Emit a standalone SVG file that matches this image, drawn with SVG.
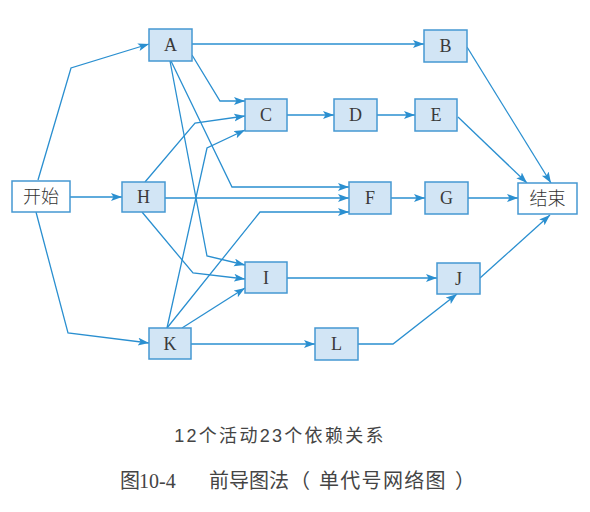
<svg xmlns="http://www.w3.org/2000/svg" width="590" height="512" viewBox="0 0 590 512">
<defs>
<marker id="ar" markerUnits="userSpaceOnUse" markerWidth="12" markerHeight="9" refX="11" refY="4" orient="auto">
<path d="M0,0 L11,4 L0,8 L2.5,4 z" fill="#2a8fd0"/>
</marker>
<style>
.n{fill:#d2e5f5;stroke:#4598d2;stroke-width:1.5}
.w{fill:#ffffff;stroke:#4598d2;stroke-width:1.5}
.t{font-family:"Liberation Serif","Noto Sans CJK SC",serif;font-size:18px;fill:#3a3a3a;text-anchor:middle}
.c{font-family:"Noto Sans CJK SC",sans-serif;font-size:18px;fill:#333;text-anchor:middle;font-weight:300}
.e path{fill:none;stroke:#2a8fd0;stroke-width:1.3;marker-end:url(#ar)}
.cap{font-family:"Liberation Sans","Noto Sans CJK SC",sans-serif;font-size:18px;fill:#444}
.cap2{font-family:"Liberation Sans","Noto Sans CJK SC",sans-serif;font-size:20px;fill:#444}
</style>
</defs>
<rect width="590" height="512" fill="#ffffff"/>
<g id="connectors" class="e">
<path d="M38,180 L71,68 L149,44"/>
<path d="M70,197 L122,197"/>
<path d="M36,212 L68,333 L149,343"/>
<path d="M192,44 L424,44"/>
<path d="M192,55 L220,101 L245,101"/>
<path d="M171,61 L232,187 L349,187"/>
<path d="M170,61 L207,256 L245,265"/>
<path d="M145,182 L195,123 L245,116"/>
<path d="M165,198 L349,198"/>
<path d="M142,212 L193,273 L245,279"/>
<path d="M167,328 L207,148 L245,130"/>
<path d="M167,328 L260,212 L349,212"/>
<path d="M182,328 L245,288"/>
<path d="M191,344 L315,344"/>
<path d="M287,115 L334,115"/>
<path d="M377,115 L415,115"/>
<path d="M458,117 L527,183"/>
<path d="M467,47 L551,183"/>
<path d="M391,198 L425,198"/>
<path d="M468,198 L518,198"/>
<path d="M287,278 L437,278"/>
<path d="M358,344 L393,344 L457,294"/>
<path d="M480,278 L550,215"/>
</g>
<g id="start"><rect class="w" x="12" y="181" width="58" height="31"/><text class="c" x="41" y="203">开始</text></g>
<g id="end"><rect class="w" x="518" y="183" width="59" height="31"/><text class="c" x="547.5" y="205">结束</text></g>
<g id="A"><rect class="n" x="149" y="29" width="43" height="32"/><text class="t" x="170.5" y="51">A</text></g>
<g id="B"><rect class="n" x="424" y="30" width="43" height="32"/><text class="t" x="445.5" y="52">B</text></g>
<g id="C"><rect class="n" x="245" y="99" width="42" height="32"/><text class="t" x="266" y="121">C</text></g>
<g id="D"><rect class="n" x="334" y="99" width="43" height="32"/><text class="t" x="355.5" y="121">D</text></g>
<g id="E"><rect class="n" x="415" y="99" width="42" height="32"/><text class="t" x="436" y="121">E</text></g>
<g id="F"><rect class="n" x="349" y="182" width="42" height="32"/><text class="t" x="370" y="204">F</text></g>
<g id="G"><rect class="n" x="425" y="182" width="43" height="32"/><text class="t" x="446.5" y="204">G</text></g>
<g id="H"><rect class="n" x="122" y="182" width="43" height="30"/><text class="t" x="143.5" y="203">H</text></g>
<g id="I"><rect class="n" x="245" y="262" width="42" height="31"/><text class="t" x="266" y="284">I</text></g>
<g id="J"><rect class="n" x="437" y="263" width="43" height="31"/><text class="t" x="458.5" y="285">J</text></g>
<g id="K"><rect class="n" x="149" y="328" width="42" height="31"/><text class="t" x="170" y="350">K</text></g>
<g id="L"><rect class="n" x="315" y="328" width="43" height="32"/><text class="t" x="336.5" y="350">L</text></g>
<text class="cap" x="280" y="442" text-anchor="middle" letter-spacing="2.3">12个活动23个依赖关系</text>
<text class="cap2" y="488"><tspan x="120">图</tspan><tspan x="139" font-family="Liberation Serif">10-4</tspan><tspan x="209">前导图法</tspan><tspan x="290">（</tspan><tspan x="319" letter-spacing="1.3">单代号网络图</tspan><tspan x="455">）</tspan></text>
</svg>
